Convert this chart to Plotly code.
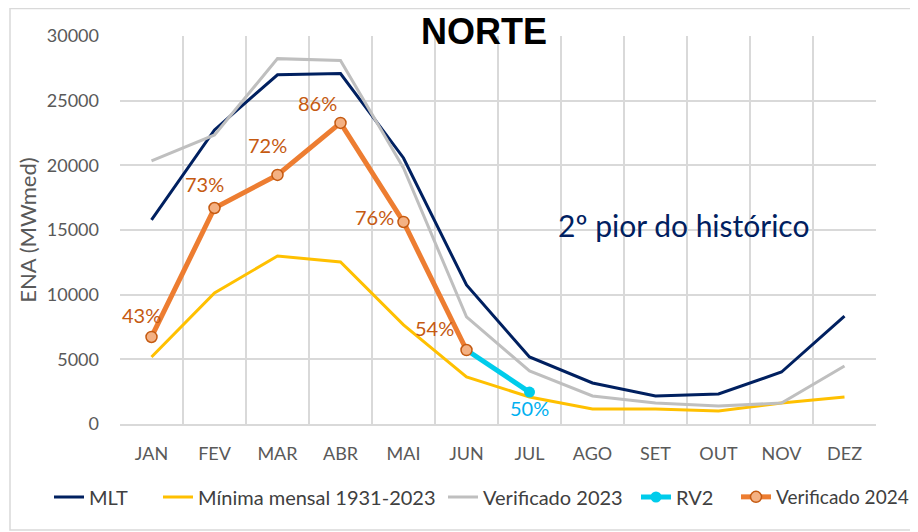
import plotly.graph_objects as go

months = ["JAN", "FEV", "MAR", "ABR", "MAI", "JUN", "JUL", "AGO", "SET", "OUT", "NOV", "DEZ"]
mlt = [15780, 22740, 27000, 27100, 20570, 10750, 5180, 3170, 2170, 2320, 4020, 8350]
minima = [5180, 10130, 12990, 12530, 7660, 3640, 2090, 1160, 1160, 1010, 1620, 2090]
ver2023 = [20340, 22350, 28250, 28100, 19800, 8280, 4100, 2170, 1620, 1390, 1620, 4490]
ver2024_months = ["JAN", "FEV", "MAR", "ABR", "MAI", "JUN"]
ver2024 = [6730, 16700, 19260, 23280, 15620, 5720]
ver2024_pct = ["43%", "73%", "72%", "86%", "76%", "54%"]
rv2_months = ["JUN", "JUL"]
rv2 = [5720, 2470]
rv2_pct = "50%"

FONT = "Lato, Liberation Sans, sans-serif"
label_shifts = [(-10, 22), (-10, 24), (-10, 30), (-23, 20), (-29, 5), (-32, 22)]

fig = go.Figure()
fig.add_trace(go.Scatter(x=months, y=mlt, name="MLT", mode="lines", legend="legend",
                         line=dict(color="#002060", width=3)))
fig.add_trace(go.Scatter(x=months, y=minima, name="Mínima mensal 1931-2023", mode="lines", legend="legend2",
                         line=dict(color="#FFC000", width=3)))
fig.add_trace(go.Scatter(x=months, y=ver2023, name="Verificado 2023", mode="lines", legend="legend3",
                         line=dict(color="#BFBFBF", width=3)))
fig.add_trace(go.Scatter(x=rv2_months, y=rv2, name="RV2", mode="lines+markers", legend="legend4",
                         line=dict(color="#00CCEB", width=5),
                         marker=dict(color="#00CCEB", size=11)))
fig.add_trace(go.Scatter(x=ver2024_months, y=ver2024, name="Verificado 2024", mode="lines+markers", legend="legend5",
                         line=dict(color="#ED7D31", width=5),
                         marker=dict(color="#F4B183", size=11, line=dict(color="#C55A11", width=1.5))))

for m, v, t, (dx, dy) in zip(ver2024_months, ver2024, ver2024_pct, label_shifts):
    fig.add_annotation(x=m, y=v, text=t, showarrow=False, xshift=dx, yshift=dy,
                       font=dict(size=20, color="#C55A11", family=FONT))
fig.add_annotation(x=rv2_months[1], y=rv2[1], text=rv2_pct, showarrow=False, xshift=0, yshift=-16,
                   font=dict(size=20, color="#00B0F0", family=FONT))

fig.add_annotation(xref="paper", yref="paper", x=0.481, y=1.012, text="<b>NORTE</b>", showarrow=False,
                   xanchor="center", yanchor="middle",
                   font=dict(size=36, color="black", family="Liberation Sans, Arial, sans-serif"))
fig.add_annotation(xref="paper", yref="paper", x=0.745, y=0.512, text="2º pior do histórico", showarrow=False,
                   xanchor="center", yanchor="middle",
                   font=dict(size=30, color="#002060", family=FONT))

# plot area in figure px: left 112, top 28, width 756, height 388
def px_x(p):
    return (p - 112) / 756.0

def px_y(p):
    return (416 - p) / 388.0

fig.add_shape(type="rect", xref="paper", yref="paper", x0=px_x(2), x1=px_x(940), y0=px_y(522), y1=px_y(0.5),
              line=dict(color="#D9D9D9", width=1.5), layer="below")

leg_common = dict(orientation="h", yanchor="middle", xanchor="left", bgcolor="rgba(0,0,0,0)",
                  font=dict(size=20, color="#404040", family=FONT), itemwidth=30)
leg_y = px_y(489)
line_starts = [44, 153, 438, 631]
layout_legends = {}
for i, xs in enumerate(line_starts):
    key = "legend" if i == 0 else f"legend{i+1}"
    layout_legends[key] = dict(leg_common, x=px_x(xs - 3), y=leg_y)
layout_legends["legend5"] = dict(leg_common, x=px_x(906), y=leg_y, xanchor="right",
                                 font=dict(size=19, color="#404040", family=FONT))

fig.update_layout(
    width=918, height=532,
    margin=dict(l=112, r=50, t=28, b=116, autoexpand=False),
    paper_bgcolor="white", plot_bgcolor="white",
    font=dict(family=FONT, color="#595959", size=18),
    showlegend=True,
    xaxis=dict(type="category", categoryorder="array", categoryarray=months,
               tickson="boundaries", showgrid=True, gridcolor="#D9D9D9", gridwidth=2,
               ticks="", showline=True, linecolor="#D9D9D9", linewidth=2, ticklabelstandoff=12,
               tickfont=dict(size=18, color="#595959"), range=[-0.5, 11.5]),
    yaxis=dict(range=[0, 30000], dtick=5000, tickformat="d", showgrid=True, gridcolor="#D9D9D9", gridwidth=2,
               zeroline=False, ticks="", showline=False, ticklabelstandoff=20,
               title=dict(text="ENA (MWmed)", font=dict(size=22, color="#595959"), standoff=4),
               tickfont=dict(size=18, color="#595959")),
    **layout_legends,
)

fig.write_html("out.html")
